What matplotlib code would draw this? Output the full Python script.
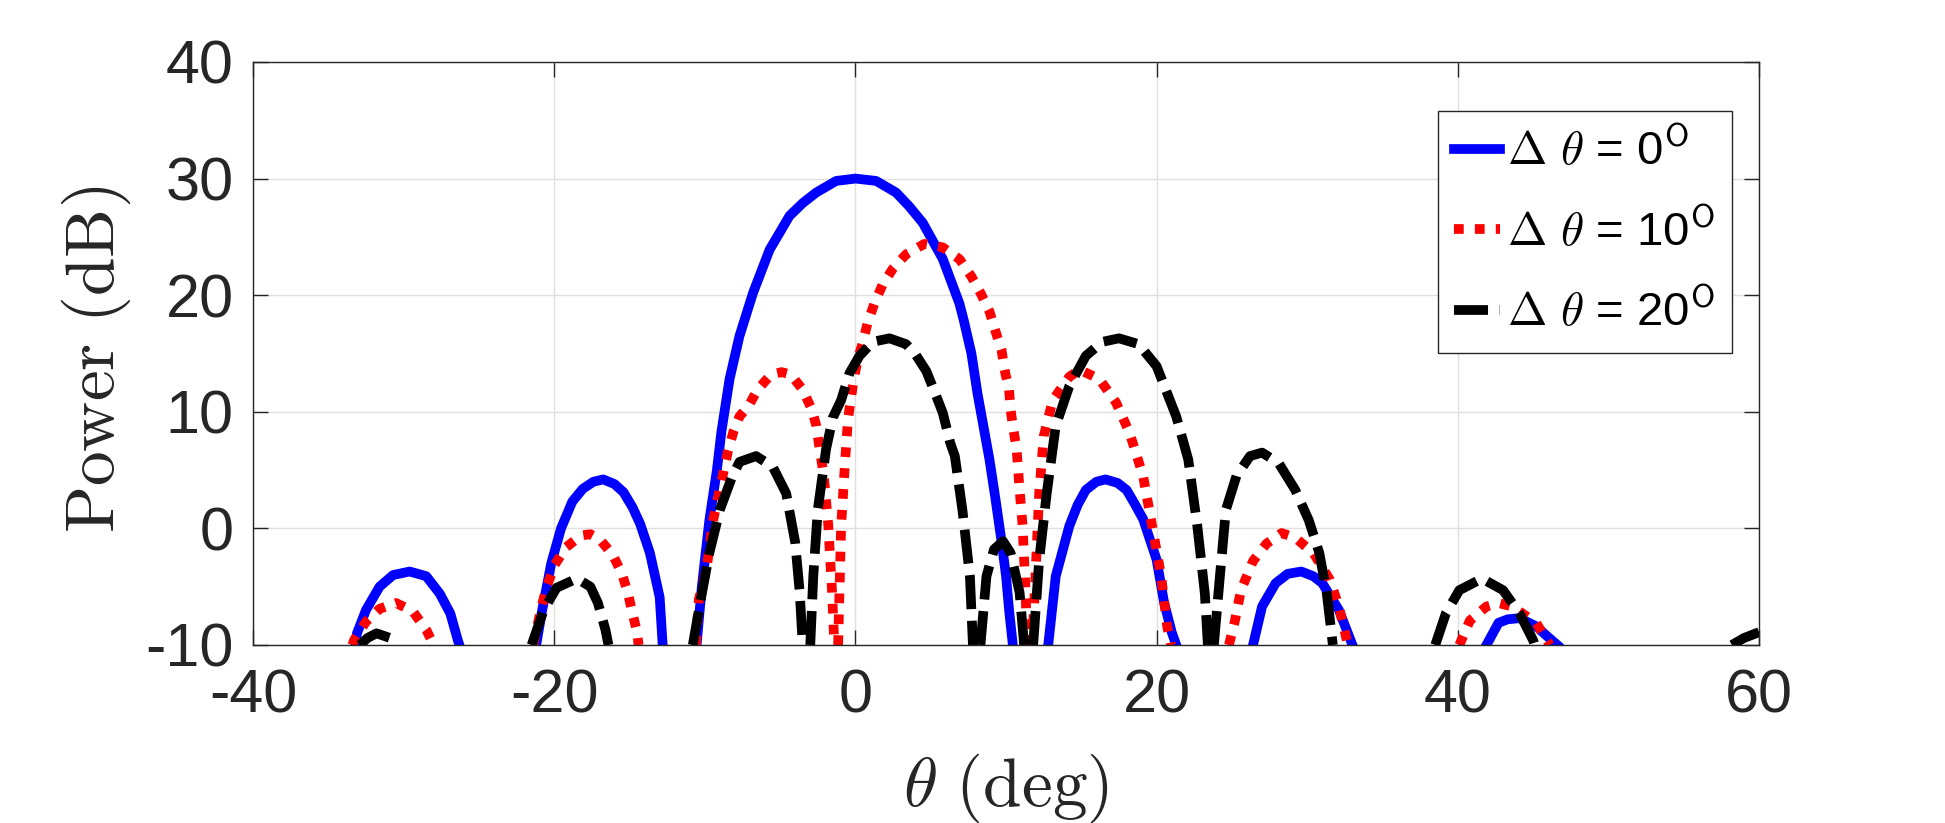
import numpy as np
import matplotlib
matplotlib.use("Agg")
import matplotlib.pyplot as plt

nan = np.nan

# values, lobes separated by nan
theta_0 = [-33.2, -33.1, -32.5, -31.6, -30.7, -29.6, -28.5, -27.6, -26.9, -26.4, -26.3, nan,
           -21.2, -20.8, -20.2, -19.55, -18.8, -18.1, -17.4, -16.75, -16.0, -15.4, -14.8, -14.3,
           -13.65, -13.0, -12.8, nan,
           -10.55, -10.2, -9.7, -9.2, -8.9, -8.36, -7.7, -6.8, -5.7, -4.38, -3.5, -2.61, -1.28,
           0.0, 1.37, 2.7, 3.58, 4.47, 5.8, 6.9, 7.2, 7.7, 8.1, 8.9, 9.3, 9.7, 10.0, 10.2, 10.45, nan,
           12.8, 13.3, 14.2, 14.75, 15.3, 16.0, 16.6, 17.4, 18.0, 18.5, 19.1, 20.0, 20.5, 21.0, 21.3, nan,
           26.4, 27.0, 27.9, 28.7, 29.6, 30.4, 31.0, 32.1, 33.0, nan,
           41.9, 42.7, 43.3, 44.1, 45.2, 45.8, 46.6]
power_0 = [-10, -9.0, -7.0, -5.0, -4.0, -3.7, -4.1, -5.6, -7.3, -9.6, -10, nan,
           -10, -7.0, -3.0, 0.0, 2.3, 3.4, 4.0, 4.2, 3.8, 3.1, 1.8, 0.4,
           -2.1, -5.9, -10, nan,
           -10, -5.0, 0.7, 5.0, 8.3, 12.8, 16.5, 20.2, 23.9, 26.8, 27.9, 28.8, 29.8,
           30.0, 29.8, 28.8, 27.6, 26.2, 23.1, 19.3, 17.8, 15.0, 11.6, 5.9, 2.5, -1.1, -4.1, -7.0, -10, nan,
           -10, -4.1, 0.2, 2.0, 3.3, 4.0, 4.2, 3.9, 3.3, 2.2, 0.8, -2.7, -6.4, -8.9, -10, nan,
           -10, -6.7, -4.7, -3.9, -3.7, -4.1, -4.7, -7.0, -10, nan,
           -10, -8.1, -7.8, -7.7, -8.4, -9.1, -10]

theta_10 = [-33.4, -33.3, -32.5, -31.6, -30.5, -29.4, -28.5, -28.0, nan,
            -21.4, -20.84, -20.5, -19.96, -19.2, -18.2, -17.6, -17.0, -16.1, -15.5, -15.1, -14.8,
            -14.5, -14.4, nan,
            -10.6, -10.4, -9.9, -9.45, -8.9, -8.45, -8.1, -7.7, -7.1, -6.5, -5.6, -4.9, -4.3, -3.5,
            -2.9, -2.6, -2.4, -2.1, -1.8, -1.55, -1.4, nan,
            -1.15, -0.95, -0.7, -0.5, -0.15, 0.15, 0.5, 0.8, 1.26, 1.8, 2.5, 3.36, 4.58, 5.8, 6.9,
            7.7, 8.3, 8.9, 9.3, 9.7, 9.9, 10.2, 10.3, 10.45, 10.7, 10.9, 11.1, 11.3, 11.4, nan,
            11.7, 11.8, 12.0, 12.2, 12.5, 13.1, 14.2, 14.9, 16.2, 17.3, 18.2, 19.1, 19.7, 20.3,
            20.7, 20.95, nan,
            24.8, 25.2, 25.6, 26.4, 27.3, 28.3, 29.2, 30.4, 31.5, 32.1, 32.7, nan,
            40.1, 40.8, 41.9, 42.7, 43.6, 45.2, 46.1]
power_10 = [-10, -9.6, -8.0, -6.9, -6.4, -7.1, -8.7, -10, nan,
            -10, -6.7, -5.0, -3.1, -1.6, -0.6, -0.5, -0.9, -2.3, -3.9, -5.6, -7.3,
            -8.9, -10, nan,
            -10, -6.1, -3.6, 0.7, 4.0, 6.7, 8.3, 9.6, 10.5, 11.9, 13.2, 13.4, 13.2, 11.9,
            10.2, 8.8, 7.0, 4.5, 0.2, -5.5, -10, nan,
            -10, 0.2, 5.5, 9.3, 12.5, 14.5, 16.0, 17.6, 19.3, 20.9, 22.3, 23.5, 24.4, 24.1, 23.1,
            21.6, 20.2, 18.6, 16.9, 15.3, 13.6, 11.9, 10.2, 8.8, 6.8, 3.3, 0.2, -5.5, -10, nan,
            -10, -8.4, -2.7, 3.0, 7.9, 11.0, 13.0, 13.6, 12.8, 10.8, 8.2, 4.5, 0.2, -4.1,
            -8.4, -10, nan,
            -10, -7.9, -5.3, -2.8, -1.3, -0.4, -0.8, -2.1, -4.4, -6.7, -10, nan,
            -10, -7.9, -6.7, -6.4, -6.7, -8.1, -10]

theta_20 = [-32.9, -32.4, -31.8, -30.9, -30.6, nan,
            -21.5, -20.7, -19.85, -18.5, -17.6, -17.1, -16.6, -16.4, nan,
            -10.8, -10.2, -9.7, -9.0, -8.2, -7.7, -6.6, -5.5, -4.6, -4.0, -3.7, -3.5, nan,
            -3.0, -2.8, -2.5, -1.95, -1.5, -0.95, -0.4, 0.27, 1.15, 2.26, 3.36, 4.0, 4.7, 5.2,
            5.8, 6.3, 6.6, 7.1, 7.6, 7.8, nan,
            8.3, 8.7, 9.2, 9.8, 10.3, 10.9, 11.2, nan,
            11.8, 12.2, 12.7, 13.3, 14.2, 15.3, 16.4, 17.5, 18.8, 20.0, 21.3, 22.1, 22.7, 23.2, 23.4, nan,
            23.8, 24.2, 24.6, 25.3, 26.2, 27.0, 28.1, 29.2, 30.1, 30.8, 31.3, 31.7, nan,
            38.5, 39.2, 40.1, 41.6, 43.0, 44.1, 45.0, 45.1, nan,
            58.2, 59.0, 60.0]
power_20 = [-10, -9.4, -9.0, -9.4, -10, nan,
            -10, -7.0, -5.1, -4.3, -5.0, -6.4, -8.7, -10, nan,
            -10, -5.6, -2.1, 1.6, 4.4, 5.7, 6.2, 5.3, 3.0, -1.2, -5.5, -10, nan,
            -10, -4.1, 1.6, 6.8, 9.5, 11.0, 13.3, 14.8, 16.0, 16.3, 15.8, 14.9, 13.5, 11.9,
            9.9, 7.3, 6.2, 1.6, -4.1, -10, nan,
            -10, -4.1, -1.8, -1.1, -2.1, -5.5, -10, nan,
            -10, -2.7, 3.0, 8.8, 12.2, 14.8, 16.0, 16.3, 15.8, 13.9, 9.6, 5.9, 0.2, -5.6, -10, nan,
            -10, -4.1, 1.6, 4.5, 6.2, 6.5, 5.6, 3.3, 0.7, -2.1, -5.6, -10, nan,
            -10, -7.3, -5.3, -4.3, -5.3, -7.3, -9.6, -10, nan,
            -10, -9.4, -8.9]

labels = [r'$\Delta\ \theta$ = 0$^{\mathsf{O}}$',
          r'$\Delta\ \theta$ = 10$^{\mathsf{O}}$',
          r'$\Delta\ \theta$ = 20$^{\mathsf{O}}$']
x_ticks = [-40, -20, 0, 20, 40, 60]
y_ticks = [-10, 0, 10, 20, 30, 40]

plt.rcParams['font.family'] = ['Liberation Sans', 'DejaVu Sans']
plt.rcParams['mathtext.fontset'] = 'cm'
plt.rcParams['axes.unicode_minus'] = False

fig = plt.figure(figsize=(19.45, 8.23), dpi=100)
ax = fig.add_axes([0.1301, 0.2163, 0.7743, 0.7084])

lw = 7.0
ax.plot(theta_0, power_0, color='#0000ff', lw=lw, label=labels[0])
ax.plot(theta_10, power_10, color='#ff0000', lw=lw, ls=(0, (1, 1.15)), label=labels[1])
ax.plot(theta_20, power_20, color='#000000', lw=lw, ls=(0, (3.5, 1.2)), label=labels[2])

ax.set_xlim(-40, 60)
ax.set_ylim(-10, 40)
ax.set_xticks(x_ticks)
ax.set_yticks(y_ticks)
ax.grid(True, color='#dfdfdf', lw=1)
ax.set_axisbelow(True)
for sp in ax.spines.values():
    sp.set_color('#262626')
    sp.set_linewidth(1.0)
ax.tick_params(direction='in', length=11, width=1.0, color='#262626',
               top=True, right=True, labelsize=44, labelcolor='#262626')
ax.tick_params(axis='x', pad=17)
ax.tick_params(axis='y', pad=14)

ax.set_xlabel(r'$\theta\ \mathrm{(deg)}$', fontsize=50, color='#262626')
ax.set_ylabel(r'$\mathrm{Power\ (dB)}$', fontsize=50, color='#262626')
ax.xaxis.set_label_coords(0.5, -0.183)
ax.yaxis.set_label_coords(-0.0797, 0.49)

leg = ax.legend(loc='upper right', bbox_to_anchor=(0.982, 0.916), borderaxespad=0,
                fontsize=34, handlelength=0.97, handletextpad=0.15, labelspacing=0.7,
                borderpad=0.35, fancybox=False, framealpha=1)
leg.get_frame().set_edgecolor('#262626')
leg.get_frame().set_linewidth(1.0)

fig.savefig('out.png', dpi=100)
